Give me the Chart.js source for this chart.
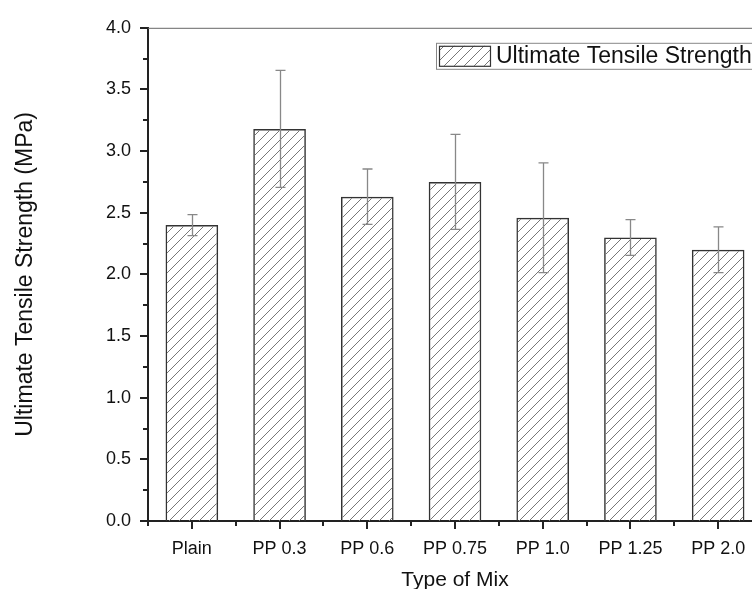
<!DOCTYPE html>
<html>
<head>
<meta charset="utf-8">
<script src="https://cdn.jsdelivr.net/npm/chart.js@4/dist/chart.umd.min.js"></script>
<style>
  html, body { margin: 0; padding: 0; background: #fff; }
  #wrap { width: 752px; height: 589px; overflow: hidden; }
</style>
</head>
<body>
<div id="wrap"><canvas id="uts" width="770" height="589"></canvas></div>
<script>
// data
var mixTypes = ["Plain", "PP 0.3", "PP 0.6", "PP 0.75", "PP 1.0", "PP 1.25", "PP 2.0"];
var strength = [2.40, 3.18, 2.63, 2.75, 2.46, 2.30, 2.20];
var strengthErr = [0.085, 0.475, 0.225, 0.385, 0.445, 0.145, 0.185];
var yTicks = [0, 0.5, 1.0, 1.5, 2.0, 2.5, 3.0, 3.5, 4.0];

var FONT = "'Liberation Sans', Arial, sans-serif";

// diagonal hatch fill
function hatch() {
    var c = document.createElement('canvas');
    c.width = 10; c.height = 10;
    var g = c.getContext('2d');
    g.strokeStyle = '#777';
    g.lineWidth = 1;
    g.beginPath();
    g.moveTo(0, 10); g.lineTo(10, 0);
    g.moveTo(-1, 1); g.lineTo(1, -1);
    g.moveTo(9, 11); g.lineTo(11, 9);
    g.stroke();
    return g.createPattern(c, 'repeat');
}
var hatchFill = hatch();

var errorBars = {
    id: 'errorBars',
    afterDatasetsDraw: function(chart) {
        var ctx = chart.ctx, x = chart.scales.x, y = chart.scales.y;
        ctx.save();
        ctx.strokeStyle = '#888';
        ctx.lineWidth = 1.3;
        for (var i = 0; i < strength.length; i++) {
            var px = Math.round(x.getPixelForValue(i)) + 0.5;
            var top = y.getPixelForValue(strength[i] + strengthErr[i]);
            var bot = y.getPixelForValue(strength[i] - strengthErr[i]);
            ctx.beginPath();
            ctx.moveTo(px, top); ctx.lineTo(px, bot);
            ctx.moveTo(px - 5, top); ctx.lineTo(px + 5, top);
            ctx.moveTo(px - 5, bot); ctx.lineTo(px + 5, bot);
            ctx.stroke();
        }
        ctx.restore();
    }
};

var frameTicks = {
    id: 'frameTicks',
    afterDraw: function(chart) {
        var ctx = chart.ctx, a = chart.chartArea, x = chart.scales.x, y = chart.scales.y;
        ctx.save();
        // top and right frame
        ctx.strokeStyle = '#666';
        ctx.lineWidth = 1;
        ctx.beginPath();
        ctx.moveTo(a.left, a.top + 0.5);
        ctx.lineTo(a.right, a.top + 0.5);
        ctx.lineTo(a.right, a.bottom);
        ctx.stroke();

        ctx.strokeStyle = '#222';
        ctx.lineWidth = 2;
        ctx.beginPath();
        // y major + minor ticks
        for (var v = 0; v <= 4.0001; v += 0.25) {
            var py = Math.round(y.getPixelForValue(v));
            var len = (Math.round(v * 4) % 2 == 0) ? 8 : 5;
            ctx.moveTo(a.left - len, py); ctx.lineTo(a.left, py);
        }
        // x ticks at categories, minor at boundaries
        for (var i = 0; i < mixTypes.length; i++) {
            var px = Math.round(x.getPixelForValue(i));
            ctx.moveTo(px, a.bottom); ctx.lineTo(px, a.bottom + 8);
            var bx = Math.round(x.getPixelForValue(i) - (x.getPixelForValue(1) - x.getPixelForValue(0)) / 2);
            ctx.moveTo(bx, a.bottom); ctx.lineTo(bx, a.bottom + 5);
        }
        ctx.stroke();

        // legend
        var lx = a.left + 288, ly = a.top + 15;
        ctx.strokeStyle = '#888';
        ctx.lineWidth = 1;
        ctx.strokeRect(lx + 0.5, ly + 0.5, 340, 26);
        ctx.fillStyle = hatchFill;
        ctx.fillRect(lx + 3, ly + 3, 51, 20);
        ctx.strokeStyle = '#333';
        ctx.lineWidth = 1.2;
        ctx.strokeRect(lx + 3.5, ly + 3.5, 51, 20);
        ctx.fillStyle = '#111';
        ctx.font = '23px ' + FONT;
        ctx.textBaseline = 'middle';
        ctx.textAlign = 'left';
        ctx.fillText(chart.data.datasets[0].label, lx + 60, ly + 14);
        ctx.restore();
    }
};

new Chart(document.getElementById('uts'), {
    type: 'bar',
    data: {
        labels: mixTypes,
        datasets: [{
            label: 'Ultimate Tensile Strength',
            data: strength,
            backgroundColor: hatchFill,
            borderColor: '#333',
            borderWidth: 1.5,
            barPercentage: 0.6,
            categoryPercentage: 1.0
        }]
    },
    options: {
        responsive: false,
        animation: false,
        layout: { padding: { top: 22, right: 8, left: 0, bottom: 0 } },
        plugins: {
            legend: { display: false },
            tooltip: { enabled: false }
        },
        scales: {
            x: {
                grid: { display: false, drawTicks: false },
                border: { color: '#222', width: 2 },
                ticks: { color: '#111', font: { family: FONT, size: 18 }, padding: 17, maxRotation: 0 },
                title: { display: true, text: 'Type of Mix', color: '#111',
                         font: { family: FONT, size: 21 }, padding: { top: 0, bottom: -4 } },
                afterFit: function(s) { s.height = 68; }
            },
            y: {
                min: 0, max: 4.0,
                afterBuildTicks: function(s) { s.ticks = yTicks.map(function(v) { return { value: v }; }); },
                grid: { display: false, drawTicks: false },
                border: { color: '#222', width: 2 },
                ticks: { color: '#111', font: { family: FONT, size: 18 }, padding: 17,
                         callback: function(v) { return v.toFixed(1); } },
                title: { display: true, text: 'Ultimate Tensile Strength (MPa)', color: '#111',
                         font: { family: FONT, size: 23 }, padding: { top: 12, bottom: 0 } },
                afterFit: function(s) { s.width = 148; }
            }
        }
    },
    plugins: [errorBars, frameTicks]
});
</script>
</body>
</html>
